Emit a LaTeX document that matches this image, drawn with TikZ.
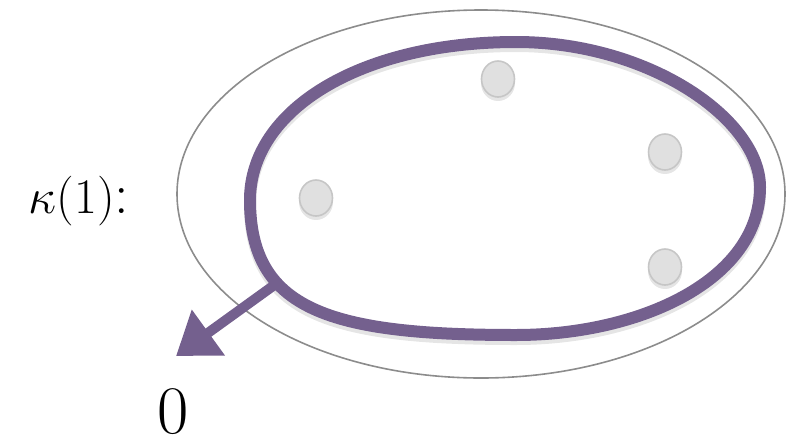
\documentclass[tikz,border=0pt]{standalone}
\usetikzlibrary{arrows.meta,shapes.geometric}
\definecolor{loopviolet}{RGB}{116,96,142}
\definecolor{elemfill}{RGB}{224,224,224}
\definecolor{elemrim}{RGB}{198,198,198}
\definecolor{rimgray}{RGB}{140,140,140}
\tikzset{
  elem/.style={ellipse, fill=elemfill, draw=elemrim, line width=0.8pt,
    minimum width=16.5pt, minimum height=18pt, inner sep=0pt},
  elemshade/.style={ellipse, fill=black, opacity=0.10,
    minimum width=17pt, minimum height=18pt, inner sep=0pt},
  loopline/.style={draw=loopviolet, line width=6pt},
  shadeline/.style={draw=black, opacity=0.10, line width=6pt},
  bigtext/.style={inner sep=0pt}
}
\newcommand{\loopshape}{(516,42) .. controls (650,42) and (760,120) .. (760,187)
  .. controls (760,280) and (640,335) .. (516,335)
  .. controls (330,335) and (250,310) .. (250,200)
  .. controls (250,110) and (360,42) .. cycle}
\begin{document}
\begin{tikzpicture}[x=0.5pt,y=-0.5pt]
  \useasboundingbox (0,0) rectangle (787,440);
  % outer set
  \draw [rimgray, line width=0.8pt] (481,194) ellipse [x radius=304, y radius=184];
  % shadow of the loop
  \draw [shadeline, yshift=-2pt] \loopshape;
  \coordinate (branch) at (273,286);
  \coordinate (tip) at (176,356);
  \draw [loopline, line width=5pt, -{Triangle[length=20pt,width=27pt]}] (branch) -- (tip);
  \draw [loopline] \loopshape;
  % elements
  \foreach \n/\p in {top/{(498,79)}, right/{(665,152)}, left/{(316,198)}, low/{(665,267)}}
    {\path \p ++(0,4) node [elemshade] {};
     \node [elem] (e-\n) at \p {};}
  \node [bigtext, font=\fontsize{29}{32}\selectfont] (kappa) at (79,201) {$\kappa(1)$:};
  \node [bigtext, anchor=base, font=\fontsize{34}{38}\selectfont] (zero) at (173,433) {0};
\end{tikzpicture}
\end{document}
